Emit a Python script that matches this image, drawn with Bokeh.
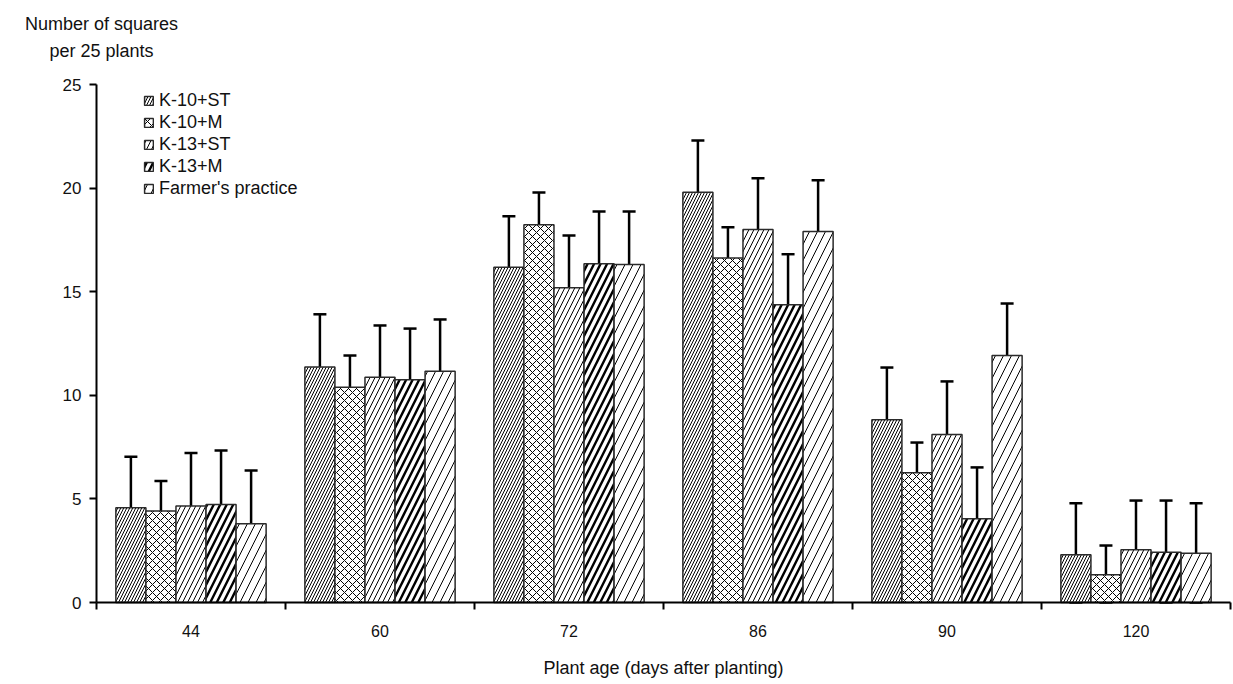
from bokeh.plotting import figure
from bokeh.models import (ColumnDataSource, Range1d, FixedTicker, Whisker, TeeHead,
                          Legend, LegendItem, LinearAxis)
from bokeh.core.properties import value
from bokeh.embed import file_html
from bokeh.resources import INLINE

# ---------------- data ----------------
categories = ["44", "60", "72", "86", "90", "120"]
series_names = ["K-10+ST", "K-10+M", "K-13+ST", "K-13+M", "Farmer's practice"]

k10_st = [4.57, 11.36, 16.18, 19.80, 8.82, 2.30]
k10_m = [4.41, 10.39, 18.23, 16.63, 6.26, 1.34]
k13_st = [4.66, 10.87, 15.19, 18.00, 8.11, 2.54]
k13_m = [4.73, 10.75, 16.35, 14.37, 4.04, 2.43]
farmer = [3.80, 11.16, 16.31, 17.90, 11.92, 2.38]

k10_st_err = [2.47, 2.55, 2.46, 2.50, 2.52, 2.49]
k10_m_err = [1.45, 1.53, 1.56, 1.48, 1.46, 1.41]
k13_st_err = [2.55, 2.50, 2.52, 2.48, 2.56, 2.38]
k13_m_err = [2.60, 2.47, 2.52, 2.44, 2.48, 2.49]
farmer_err = [2.57, 2.50, 2.56, 2.48, 2.51, 2.41]

y_ticks = [0, 5, 10, 15, 20, 25]
y_max = 25
y_title_lines = ["Number of squares", "per 25 plants"]
x_title = "Plant age (days after planting)"

values = [k10_st, k10_m, k13_st, k13_m, farmer]
errors = [k10_st_err, k10_m_err, k13_st_err, k13_m_err, farmer_err]

# hatch styles per series: (pattern, scale, weight)
hatch_styles = [("/", 6, 1.0), ("x", 8, 1.0), ("/", 10, 1.0), ("/", 13, 2.4), ("/", 16, 1.0)]

FONT = "Liberation Sans"
TXT = "#111111"

# ---------------- page geometry (pixels) ----------------
W, H = 1233, 684
AX_LEFT, AX_RIGHT, AX_TOP, AX_BOTTOM = 96, 1230, 84, 602
n = len(categories)
px_per_x = (AX_RIGHT - AX_LEFT) / n
px_per_y = (AX_BOTTOM - AX_TOP) / y_max

# the frame covers the whole canvas; both axes are drawn at fixed data locations
x0 = -AX_LEFT / px_per_x
x1 = (W - AX_LEFT) / px_per_x
y0 = -(H - AX_BOTTOM) / px_per_y
y1 = AX_BOTTOM / px_per_y


def to_data(px, py):
    return (px - AX_LEFT) / px_per_x, (AX_BOTTOM - py) / px_per_y


p = figure(width=W, height=H, output_backend="svg", toolbar_location=None,
           x_range=Range1d(x0, x1), y_range=Range1d(y0, y1),
           x_axis_location=None, y_axis_location=None,
           min_border_left=0, min_border_right=0, min_border_top=0,
           min_border_bottom=0)
p.title = None
p.outline_line_color = None
p.grid.grid_line_color = None
p.background_fill_color = "white"

bar_w = 0.159
renderers = []
for j, (vals, errs) in enumerate(zip(values, errors)):
    xs = [i + 0.5 + (j - 2) * bar_w for i in range(n)]
    src = ColumnDataSource(dict(
        x=xs, top=vals,
        upper=[v + e for v, e in zip(vals, errs)],
        lower=[max(0.0, v - e) for v, e in zip(vals, errs)],
    ))
    pat, sc, wt = hatch_styles[j]
    r = p.vbar(x="x", top="top", width=bar_w, bottom=0, source=src,
               fill_color="white", line_color="#2a2a2a", line_width=1.5,
               hatch_pattern=pat, hatch_scale=sc, hatch_weight=wt,
               hatch_color="black", hatch_alpha=1.0)
    renderers.append(r)
    w = Whisker(source=src, base="x", upper="upper", lower="lower", dimension="height",
                line_color="black", line_width=2.5,
                upper_head=TeeHead(size=13, line_color="black", line_width=2.5),
                lower_head=TeeHead(size=13, line_color="black", line_width=2.5))
    p.add_layout(w)

# ---------------- x axis (drawn at y = 0) ----------------
xax = LinearAxis(fixed_location=0, bounds=(0, n),
                 ticker=FixedTicker(ticks=[i + 0.5 for i in range(n)],
                                    minor_ticks=list(range(n + 1))))
xax.major_label_overrides = {i + 0.5: c for i, c in enumerate(categories)}
xax.major_tick_out = 0
xax.major_tick_in = 0
xax.minor_tick_out = 7
xax.minor_tick_in = 0
xax.minor_tick_line_color = "black"
xax.minor_tick_line_width = 2
xax.axis_line_color = "black"
xax.axis_line_width = 2
xax.major_label_standoff = 15
xax.major_label_text_font = FONT
xax.major_label_text_font_size = "16px"
xax.major_label_text_color = TXT
xax.axis_label = x_title
xax.axis_label_text_font = FONT
xax.axis_label_text_font_size = "18px"
xax.axis_label_text_font_style = "normal"
xax.axis_label_text_color = TXT
xax.axis_label_standoff = 18
p.add_layout(xax, "below")

# ---------------- y axis (drawn at x = 0) ----------------
yax = LinearAxis(fixed_location=0, bounds=(0, y_max), ticker=FixedTicker(ticks=y_ticks))
yax.major_tick_out = 7
yax.major_tick_in = 0
yax.major_tick_line_width = 2
yax.major_tick_line_color = "black"
yax.minor_tick_line_color = None
yax.axis_line_color = "black"
yax.axis_line_width = 2
yax.major_label_standoff = 8
yax.major_label_text_font = FONT
yax.major_label_text_font_size = "17px"
yax.major_label_text_color = TXT
p.add_layout(yax, "left")

# horizontal y-axis title (two centred lines) at top-left
tx, ty1 = to_data(101, 23)
_, ty2 = to_data(101, 50)
p.text(x=[tx, tx], y=[ty1, ty2], text=y_title_lines,
       text_align="center", text_baseline="alphabetic",
       text_font=value(FONT), text_font_size="18px", text_color=TXT)

# ---------------- legend ----------------
items = [LegendItem(label=nm, renderers=[r]) for nm, r in zip(series_names, renderers)]
leg_h = 22 * len(items)
legend = Legend(items=items, location=(143, H - (AX_TOP + 5) - leg_h),
                orientation="vertical",
                border_line_color=None, background_fill_alpha=0,
                glyph_width=11, glyph_height=11, label_height=22, spacing=0,
                padding=0, margin=0, label_standoff=5,
                label_text_font=FONT, label_text_font_size="18px", label_text_color=TXT)
p.add_layout(legend)

open("out.html", "w").write(file_html(p, INLINE))
